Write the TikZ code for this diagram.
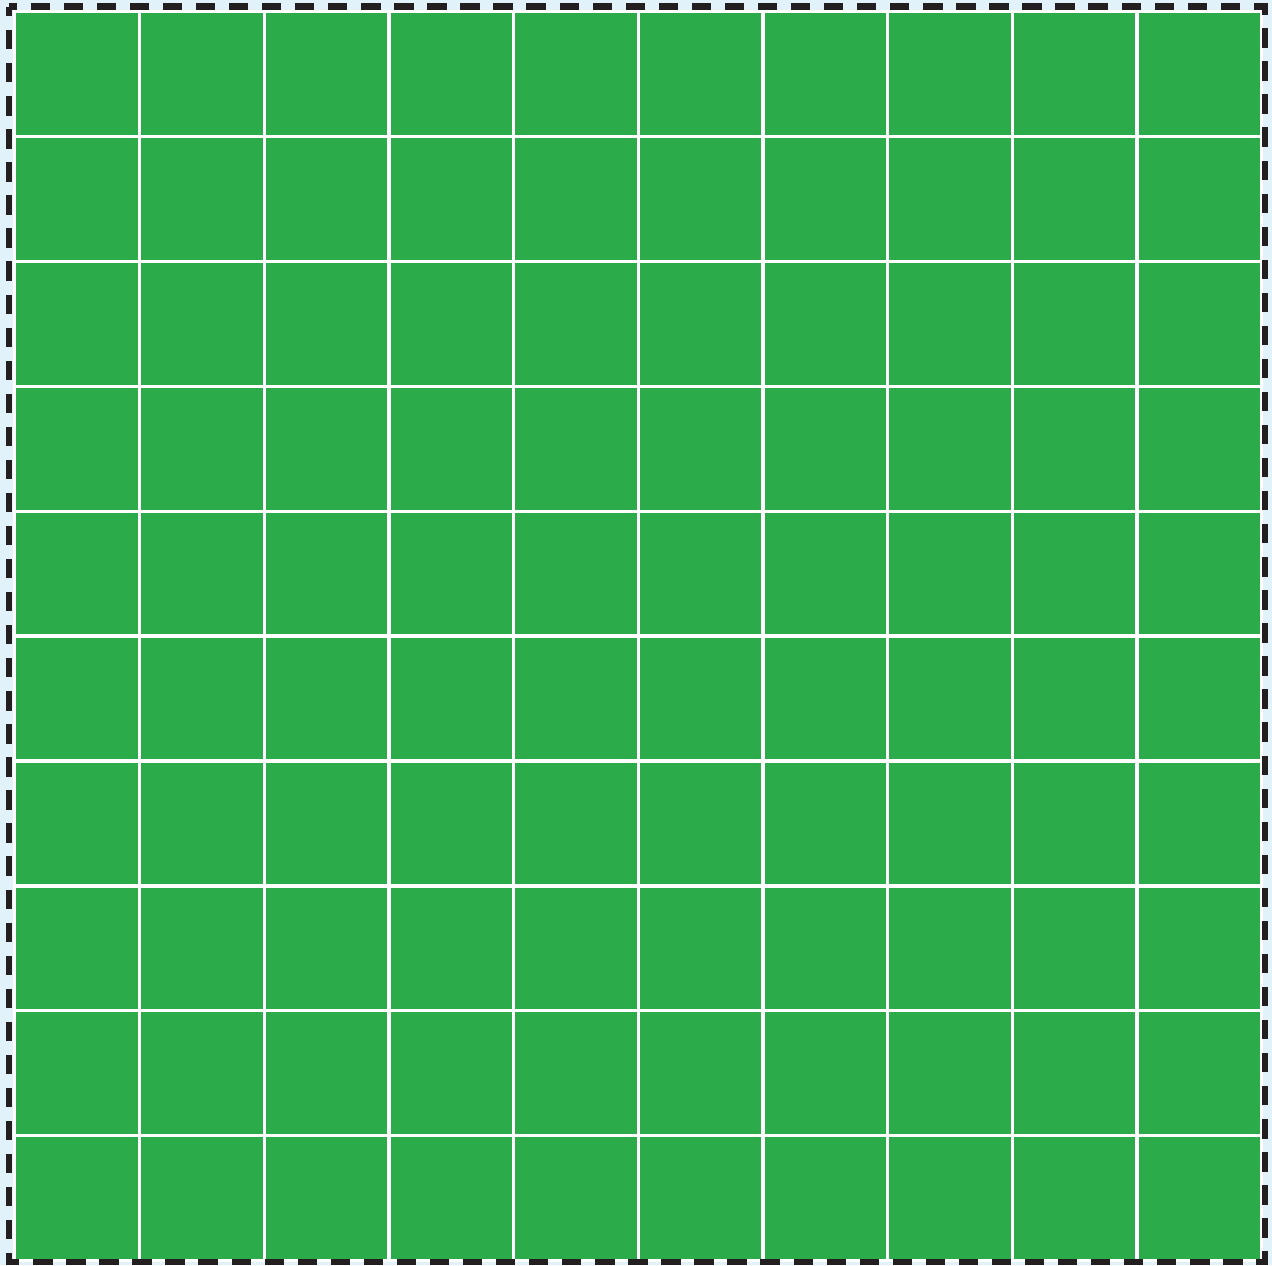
\documentclass[tikz,border=0pt]{standalone}
\usepackage{xcolor}
\usepackage{tikz}
\definecolor{GridGreen}{HTML}{2CAB4B}
\definecolor{PaleBlue}{HTML}{E2F2FB}
\definecolor{FrameBlack}{HTML}{231F20}
\tikzset{
  gridline/.style={white,line width=0.95pt,line cap=rect},
  framedash/.style={FrameBlack,line width=1.9pt,dash pattern=on 5.5pt off 3.9pt,dash phase=2.7pt}
}

\begin{document}
\begin{tikzpicture}[x=0.01cm,y=-0.01cm]
    \useasboundingbox (0,0) rectangle (1272,1265);
    \fill[PaleBlue] (0,0) rectangle (1272,1265);
    % 10 x 10 squares
    \fill[GridGreen] (14.8,11.6) rectangle (1261.8,1260.6);
    \foreach \i in {0,...,10}{
      \draw[gridline] (14.8+124.7*\i,11.6) -- (14.8+124.7*\i,1260.6);
      \draw[gridline] (14.8,11.6+124.9*\i) -- (1261.8,11.6+124.9*\i);
    }
    \draw[framedash] (9,6.5) rectangle (1265,1262);
\end{tikzpicture}
\end{document}
